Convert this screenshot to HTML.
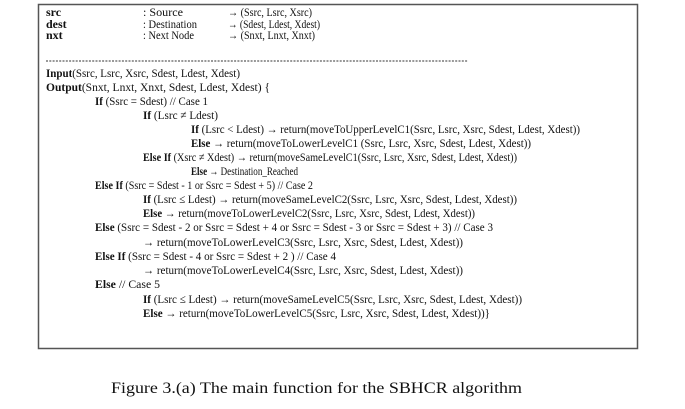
<!DOCTYPE html>
<html><head><meta charset="utf-8"><style>
html,body{margin:0;padding:0;background:#fff;}
svg{display:block;}
text{font-family:"Liberation Serif",serif;fill:#111;}
.c{font-size:12px;}
.b{font-weight:bold;}
</style></head><body>
<svg width="685" height="409" viewBox="0 0 685 409" xmlns="http://www.w3.org/2000/svg">
<rect x="38.5" y="4.5" width="599" height="344" fill="#fff" stroke="#555" stroke-width="1.5"/>
<g class="c">
<text x="46" y="16" class="b">src</text>
<text x="143" y="16" textLength="40" lengthAdjust="spacingAndGlyphs">: Source</text>
<text x="228" y="16" textLength="84" lengthAdjust="spacingAndGlyphs">→ (Ssrc,  Lsrc,  Xsrc)</text>
<text x="46" y="28" class="b">dest</text>
<text x="143" y="28" textLength="54" lengthAdjust="spacingAndGlyphs">: Destination</text>
<text x="228" y="28" textLength="92" lengthAdjust="spacingAndGlyphs">→ (Sdest, Ldest, Xdest)</text>
<text x="46" y="39" class="b">nxt</text>
<text x="143" y="39" textLength="51" lengthAdjust="spacingAndGlyphs">: Next Node</text>
<text x="228" y="39" textLength="87" lengthAdjust="spacingAndGlyphs">→ (Snxt,  Lnxt,  Xnxt)</text>
</g>
<line x1="46" y1="61" x2="468" y2="61" stroke="#333" stroke-width="1" stroke-dasharray="2,1.3"/>
<g class="c">
<text x="46" y="77" textLength="194" lengthAdjust="spacingAndGlyphs"><tspan class="b">Input</tspan>(Ssrc, Lsrc, Xsrc, Sdest, Ldest, Xdest)</text>
<text x="46" y="91" textLength="224" lengthAdjust="spacingAndGlyphs"><tspan class="b">Output</tspan>(Snxt, Lnxt, Xnxt, Sdest, Ldest, Xdest) {</text>
<text x="95" y="105" textLength="113" lengthAdjust="spacingAndGlyphs"><tspan class="b">If</tspan> (Ssrc = Sdest) // Case 1</text>
<text x="143" y="119" textLength="75" lengthAdjust="spacingAndGlyphs"><tspan class="b">If</tspan> (Lsrc ≠ Ldest)</text>
<text x="191" y="133" textLength="389" lengthAdjust="spacingAndGlyphs"><tspan class="b">If</tspan> (Lsrc &lt; Ldest) → return(moveToUpperLevelC1(Ssrc, Lsrc, Xsrc, Sdest, Ldest, Xdest))</text>
<text x="191" y="147" textLength="340" lengthAdjust="spacingAndGlyphs"><tspan class="b">Else</tspan> → return(moveToLowerLevelC1 (Ssrc, Lsrc, Xsrc, Sdest, Ldest, Xdest))</text>
<text x="143" y="161" textLength="374" lengthAdjust="spacingAndGlyphs"><tspan class="b">Else If</tspan> (Xsrc ≠ Xdest) → return(moveSameLevelC1(Ssrc, Lsrc, Xsrc, Sdest, Ldest, Xdest))</text>
<text x="191" y="175" textLength="107" lengthAdjust="spacingAndGlyphs"><tspan class="b">Else</tspan> → Destination_Reached</text>
<text x="95" y="189" textLength="218" lengthAdjust="spacingAndGlyphs"><tspan class="b">Else If</tspan> (Ssrc = Sdest - 1 or Ssrc = Sdest + 5) // Case 2</text>
<text x="143" y="203" textLength="374" lengthAdjust="spacingAndGlyphs"><tspan class="b">If</tspan> (Lsrc ≤ Ldest) → return(moveSameLevelC2(Ssrc, Lsrc, Xsrc, Sdest, Ldest, Xdest))</text>
<text x="143" y="217" textLength="332" lengthAdjust="spacingAndGlyphs"><tspan class="b">Else</tspan> → return(moveToLowerLevelC2(Ssrc, Lsrc, Xsrc, Sdest, Ldest, Xdest))</text>
<text x="95" y="231" textLength="398" lengthAdjust="spacingAndGlyphs"><tspan class="b">Else</tspan> (Ssrc = Sdest - 2 or Ssrc = Sdest + 4 or Ssrc = Sdest - 3 or Ssrc = Sdest + 3)  // Case 3</text>
<text x="143" y="246" textLength="320" lengthAdjust="spacingAndGlyphs">→ return(moveToLowerLevelC3(Ssrc, Lsrc, Xsrc, Sdest, Ldest, Xdest))</text>
<text x="95" y="260" textLength="241" lengthAdjust="spacingAndGlyphs"><tspan class="b">Else If</tspan> (Ssrc = Sdest - 4 or Ssrc = Sdest + 2 ) // Case 4</text>
<text x="143" y="274" textLength="320" lengthAdjust="spacingAndGlyphs">→ return(moveToLowerLevelC4(Ssrc, Lsrc, Xsrc, Sdest, Ldest, Xdest))</text>
<text x="95" y="288" textLength="65" lengthAdjust="spacingAndGlyphs"><tspan class="b">Else</tspan>  // Case 5</text>
<text x="143" y="303" textLength="379" lengthAdjust="spacingAndGlyphs"><tspan class="b">If</tspan> (Lsrc ≤ Ldest) → return(moveSameLevelC5(Ssrc, Lsrc, Xsrc, Sdest, Ldest, Xdest))</text>
<text x="143" y="317" textLength="347" lengthAdjust="spacingAndGlyphs"><tspan class="b">Else</tspan> → return(moveToLowerLevelC5(Ssrc, Lsrc, Xsrc, Sdest, Ldest, Xdest))}</text>
</g>
<text x="111" y="393" font-size="16" textLength="411" lengthAdjust="spacingAndGlyphs">Figure 3.(a) The main function for the SBHCR algorithm</text>
</svg>
</body></html>
